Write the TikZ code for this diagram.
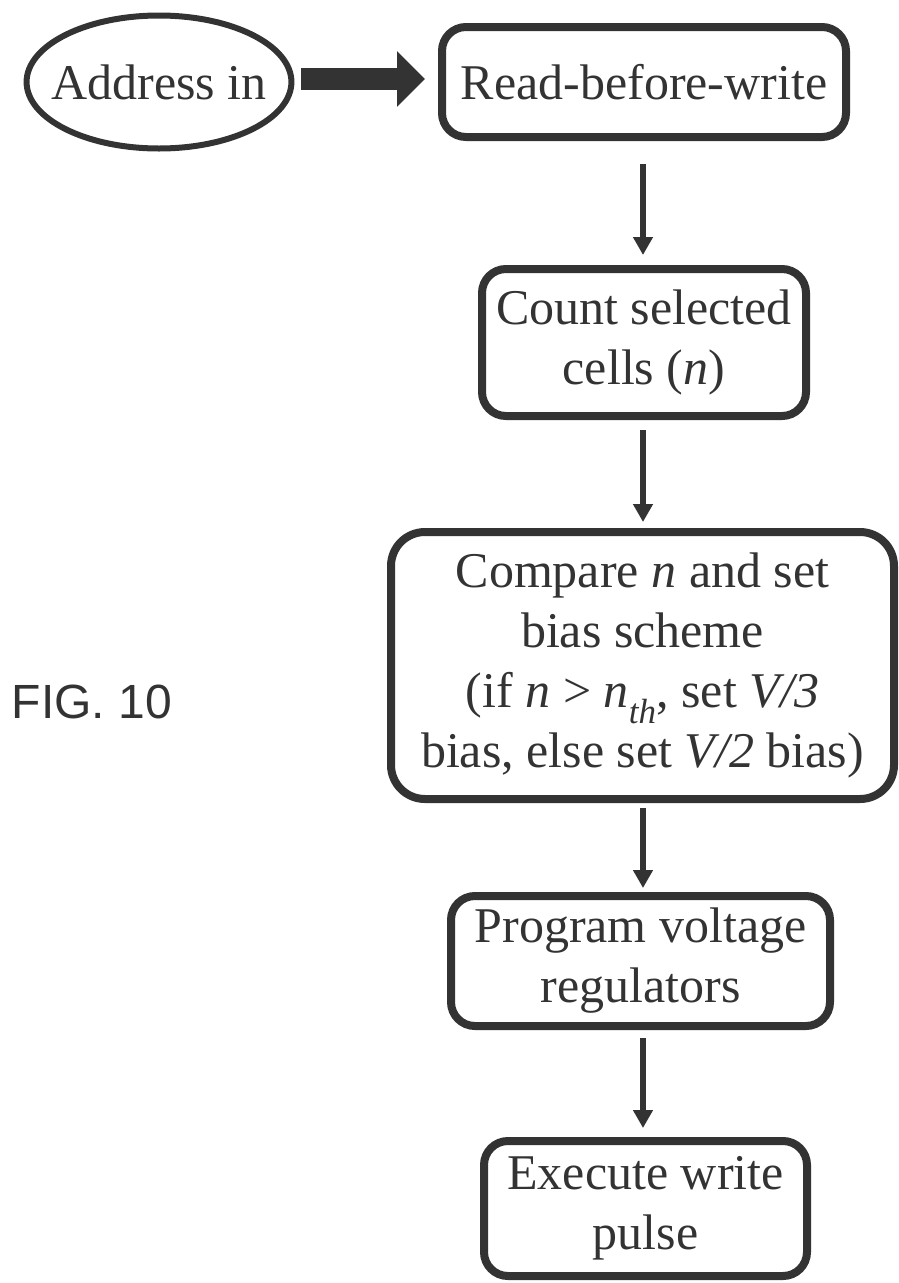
\documentclass[tikz,border=0pt]{standalone}
\usepackage{fontspec}
\setmainfont{Liberation Serif}
\newfontfamily\figfont{Liberation Sans}
\usetikzlibrary{arrows.meta,shapes.geometric,calc}
\definecolor{ink}{HTML}{333333}
\tikzset{
  box/.style={draw=ink, text=ink, line width=8pt, rounded corners=24pt, rectangle,
    inner sep=0pt, align=center, font=\fontsize{50}{60}\selectfont},
  oval/.style={draw=ink, text=ink, line width=6pt, ellipse, inner xsep=-14pt, inner ysep=0pt,
    font=\fontsize{50}{60}\selectfont},
  flow/.style={draw=ink, line width=6pt, -{Triangle[length=18pt,width=19pt]}},
  fat/.style={draw=ink, line width=22pt, -{Triangle[length=28pt,width=54pt]}},
}
\begin{document}
\begin{tikzpicture}[x=1pt,y=-1pt]
\useasboundingbox (0,0) rectangle (899,1283);
\node[oval, minimum width=262pt, minimum height=133pt] (addr) at (159,82) {Address in};
\node[box, minimum width=404pt, minimum height=110pt] (rbw) at (644,82) {Read-before-write};
\node[box, minimum width=324pt, minimum height=147pt] (count) at (644,342.5) {Count selected\\cells (\textit{n})};
\node[box, rounded corners=34pt, minimum width=503pt, minimum height=267pt] (cmp) at (642.5,665.5)
  {Compare \textit{n} and set\\bias scheme\\(if \textit{n} {>} \textit{n}\textsubscript{\textit{th}}, set \textit{V/3}\\bias, else set \textit{V/2} bias)};
\node[box, minimum width=379pt, minimum height=130pt] (prog) at (640.5,961) {Program voltage\\regulators};
\node[box, minimum width=323pt, minimum height=135pt] (exec) at (645.5,1208.5) {Execute write\\pulse};
\node[text=ink, font=\figfont\fontsize{48}{56}\selectfont] (fig) at (92,702) {FIG. 10};
% connectors
\draw[fat, shorten <=7pt, shorten >=13pt] ([yshift=3pt]addr.east) -- ([yshift=3pt]addr.east -| rbw.west);
\draw[flow, shorten <=23pt, shorten >=10pt] ([xshift=-1pt]rbw.south) -- ([xshift=-1pt]rbw.south |- count.north);
\draw[flow, shorten <=10pt, shorten >=6pt] ([xshift=-1pt]count.south) -- ([xshift=-1pt]count.south |- cmp.north);
\draw[flow, shorten <=5pt, shorten >=4pt] ([xshift=0.5pt]cmp.south) -- ([xshift=0.5pt]cmp.south |- prog.north);
\draw[flow, shorten <=8pt, shorten >=9pt] ([xshift=2.5pt]prog.south) -- ([xshift=2.5pt]prog.south |- exec.north);
\end{tikzpicture}
\end{document}
